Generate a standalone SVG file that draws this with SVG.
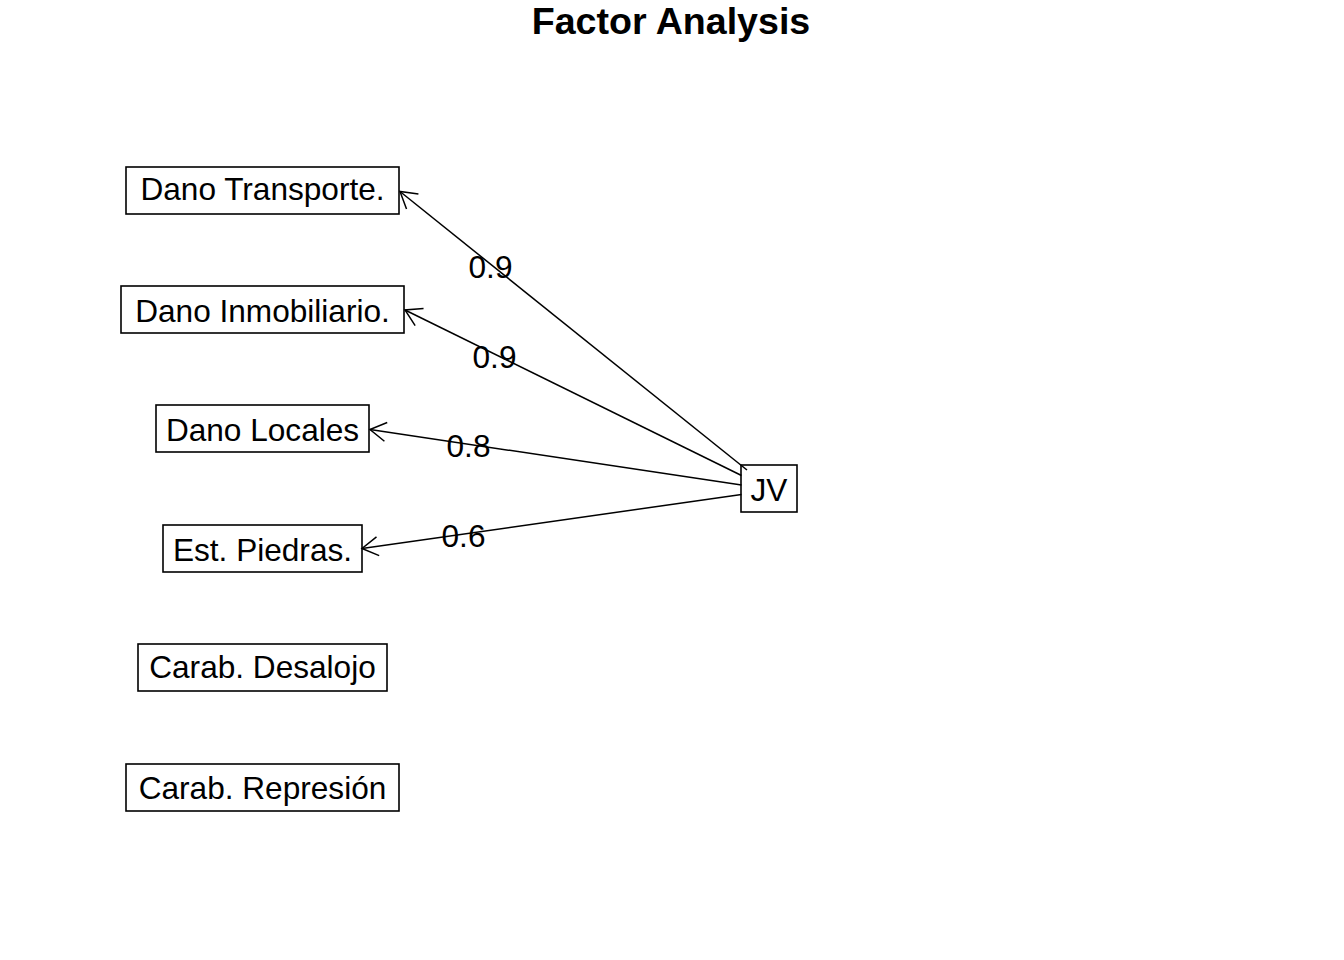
<svg xmlns="http://www.w3.org/2000/svg" width="1344" height="960" viewBox="0 0 1344 960">
<style>
.box{fill:none;stroke:#000;stroke-width:1.6}
.lbl{font-family:"Liberation Sans",Arial,sans-serif;font-size:31.6px;fill:#000;text-anchor:middle}
.num{font-family:"Liberation Sans",Arial,sans-serif;font-size:31.6px;fill:#000;text-anchor:middle}
.edge{fill:none;stroke:#000;stroke-width:1.5}
.title{font-family:"Liberation Sans",Arial,sans-serif;font-size:37.6px;font-weight:bold;fill:#000;text-anchor:middle}
</style>
<defs>
<marker id="arr" markerUnits="userSpaceOnUse" markerWidth="40" markerHeight="40" viewBox="-20 -20 40 40" refX="0" refY="0" orient="auto">
<path d="M -16 -9.5 L 0 0 L -16 9.5" fill="none" stroke="#000" stroke-width="1.5"/>
</marker>
</defs>
<rect width="1344" height="960" fill="#fff"/>
<text class="title" x="671" y="33.5">Factor Analysis</text>
<g id="edges">
<path class="edge" d="M 747 470 L 400 191.5" marker-end="url(#arr)"/>
<path class="edge" d="M 741.5 475.5 L 405 310" marker-end="url(#arr)"/>
<path class="edge" d="M 741.5 485 L 370 429.5" marker-end="url(#arr)"/>
<path class="edge" d="M 741.5 494.5 L 362 548.5" marker-end="url(#arr)"/>
<text class="num" x="490.5" y="277.5">0.9</text>
<text class="num" x="494.5" y="367.5">0.9</text>
<text class="num" x="468.5" y="456.5">0.8</text>
<text class="num" x="463.5" y="546.5">0.6</text>
</g>
<g id="n1"><rect class="box" x="126" y="167" width="273" height="47"/><text class="lbl" x="262.5" y="200">Dano Transporte.</text></g>
<g id="n2"><rect class="box" x="121" y="286" width="283" height="47"/><text class="lbl" x="262.5" y="321.5">Dano Inmobiliario.</text></g>
<g id="n3"><rect class="box" x="156" y="405" width="213" height="47"/><text class="lbl" x="262.5" y="440.5">Dano Locales</text></g>
<g id="n4"><rect class="box" x="163" y="525" width="199" height="47"/><text class="lbl" x="262.5" y="560.5">Est. Piedras.</text></g>
<g id="n5"><rect class="box" x="138" y="644" width="249" height="47"/><text class="lbl" x="262.5" y="678">Carab. Desalojo</text></g>
<g id="n6"><rect class="box" x="126" y="764" width="273" height="47"/><text class="lbl" x="262.5" y="798.5">Carab. Represión</text></g>
<g id="jv"><rect class="box" x="741" y="465" width="56" height="47"/><text class="lbl" x="769" y="500.5">JV</text></g>
</svg>
